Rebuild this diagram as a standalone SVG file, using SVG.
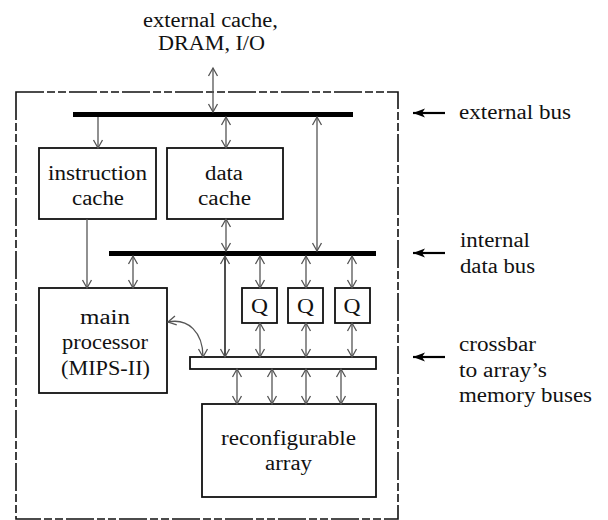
<svg xmlns="http://www.w3.org/2000/svg" width="608" height="520" viewBox="0 0 608 520">
<style>
text{font-family:"Liberation Serif",serif;font-size:20px;fill:#111}
.box{fill:#fff;stroke:#111;stroke-width:1.8}
.bus{fill:#000}
.c{fill:none;stroke:#555;stroke-width:1.3}
.cd{fill:none;stroke:#222;stroke-width:1.6}
.lbl{stroke:#000;stroke-width:2.2}
</style>
<defs>
<marker id="ah" markerUnits="userSpaceOnUse" markerWidth="12" markerHeight="12" viewBox="0 0 12 12" refX="10" refY="6" orient="auto-start-reverse">
<path d="M2,1.5 L10,6 L2,10.5" fill="none" stroke="#555" stroke-width="1.3"/>
</marker>
<marker id="fh" markerUnits="userSpaceOnUse" markerWidth="14" markerHeight="12" viewBox="0 0 14 12" refX="1" refY="6" orient="auto">
<path d="M1,6 L13,1.5 L10,6 L13,10.5 Z" fill="#000"/>
</marker>
</defs>

<rect id="chip" x="16" y="92" width="382" height="427" fill="none" stroke="#111" stroke-width="1.6" stroke-dasharray="28 3 8 3 8 3"/>

<g id="external-label" font-family="Liberation Serif, serif">
<text x="143" y="27" textLength="135" lengthAdjust="spacingAndGlyphs">external cache,</text>
<text x="158" y="50" textLength="107" lengthAdjust="spacingAndGlyphs">DRAM, I/O</text>
</g>

<g id="external-bus"><rect class="bus" x="73" y="112" width="280" height="5"/></g>
<g id="internal-bus"><rect class="bus" x="109" y="251" width="267" height="5"/></g>

<g id="instruction-cache">
<rect class="box" x="39" y="148" width="117" height="71"/>
<text x="48" y="180" textLength="99" lengthAdjust="spacingAndGlyphs">instruction</text>
<text x="72" y="205" textLength="52" lengthAdjust="spacingAndGlyphs">cache</text>
</g>

<g id="data-cache">
<rect class="box" x="167" y="148" width="116" height="71"/>
<text x="205" y="180" textLength="38" lengthAdjust="spacingAndGlyphs">data</text>
<text x="198" y="205" textLength="53" lengthAdjust="spacingAndGlyphs">cache</text>
</g>

<g id="main-processor">
<rect class="box" x="39" y="288" width="128" height="105"/>
<text x="80" y="324" textLength="50" lengthAdjust="spacingAndGlyphs">main</text>
<text x="62" y="349" textLength="86" lengthAdjust="spacingAndGlyphs">processor</text>
<text x="61" y="375" textLength="89" lengthAdjust="spacingAndGlyphs">(MIPS-II)</text>
</g>

<g id="q1"><rect class="box" x="242" y="288" width="35" height="35"/><text x="251" y="313" textLength="17" lengthAdjust="spacingAndGlyphs">Q</text></g>
<g id="q2"><rect class="box" x="288" y="288" width="35" height="35"/><text x="297" y="313" textLength="17" lengthAdjust="spacingAndGlyphs">Q</text></g>
<g id="q3"><rect class="box" x="335" y="288" width="35" height="35"/><text x="343.5" y="313" textLength="17" lengthAdjust="spacingAndGlyphs">Q</text></g>

<g id="crossbar"><rect class="box" x="190" y="357" width="186" height="12" stroke-width="1.6"/></g>

<g id="reconfigurable-array">
<rect class="box" x="202" y="404" width="174" height="93"/>
<text x="221" y="445" textLength="135" lengthAdjust="spacingAndGlyphs">reconfigurable</text>
<text x="265" y="470" textLength="47" lengthAdjust="spacingAndGlyphs">array</text>
</g>

<g id="connectors">
<line class="c" x1="213" y1="68" x2="213" y2="112" marker-start="url(#ah)" marker-end="url(#ah)"/>
<line class="c" x1="98" y1="117" x2="98" y2="148" marker-end="url(#ah)"/>
<line class="c" x1="226" y1="117" x2="226" y2="148" marker-start="url(#ah)" marker-end="url(#ah)"/>
<line class="c" x1="317" y1="117" x2="317" y2="251" marker-start="url(#ah)" marker-end="url(#ah)"/>
<line class="c" x1="226" y1="219" x2="226" y2="251" marker-start="url(#ah)" marker-end="url(#ah)"/>
<line class="c" x1="87" y1="219" x2="87" y2="288" marker-end="url(#ah)"/>
<line class="c" x1="133" y1="256" x2="133" y2="288" marker-start="url(#ah)" marker-end="url(#ah)"/>
<line class="cd" x1="225" y1="256" x2="225" y2="357" marker-start="url(#ah)" marker-end="url(#ah)"/>
<line class="c" x1="260" y1="256" x2="260" y2="288" marker-start="url(#ah)" marker-end="url(#ah)"/>
<line class="c" x1="306" y1="256" x2="306" y2="288" marker-start="url(#ah)" marker-end="url(#ah)"/>
<line class="c" x1="352" y1="256" x2="352" y2="288" marker-start="url(#ah)" marker-end="url(#ah)"/>
<line class="c" x1="260" y1="323" x2="260" y2="357" marker-start="url(#ah)" marker-end="url(#ah)"/>
<line class="c" x1="306" y1="323" x2="306" y2="357" marker-start="url(#ah)" marker-end="url(#ah)"/>
<line class="c" x1="352" y1="323" x2="352" y2="357" marker-start="url(#ah)" marker-end="url(#ah)"/>
<line class="c" x1="237" y1="369" x2="237" y2="404" marker-start="url(#ah)" marker-end="url(#ah)"/>
<line class="c" x1="272" y1="369" x2="272" y2="404" marker-start="url(#ah)" marker-end="url(#ah)"/>
<line class="c" x1="306" y1="369" x2="306" y2="404" marker-start="url(#ah)" marker-end="url(#ah)"/>
<line class="c" x1="341" y1="369" x2="341" y2="404" marker-start="url(#ah)" marker-end="url(#ah)"/>
<path class="c" d="M168,322 C188,318 203,332 203,357" marker-start="url(#ah)" marker-end="url(#ah)"/>
</g>

<g id="labels">
<line class="lbl" x1="413" y1="113" x2="445" y2="113" marker-start="url(#fh)"/>
<text x="459" y="119" textLength="112" lengthAdjust="spacingAndGlyphs">external bus</text>
<line class="lbl" x1="413" y1="253" x2="445" y2="253" marker-start="url(#fh)"/>
<text x="460" y="247" textLength="70" lengthAdjust="spacingAndGlyphs">internal</text>
<text x="460" y="273" textLength="75" lengthAdjust="spacingAndGlyphs">data bus</text>
<line class="lbl" x1="413" y1="357" x2="445" y2="357" marker-start="url(#fh)"/>
<text x="459" y="351" textLength="77" lengthAdjust="spacingAndGlyphs">crossbar</text>
<text x="459" y="377" textLength="88" lengthAdjust="spacingAndGlyphs">to array’s</text>
<text x="459" y="402" textLength="133" lengthAdjust="spacingAndGlyphs">memory buses</text>
</g>
</svg>
